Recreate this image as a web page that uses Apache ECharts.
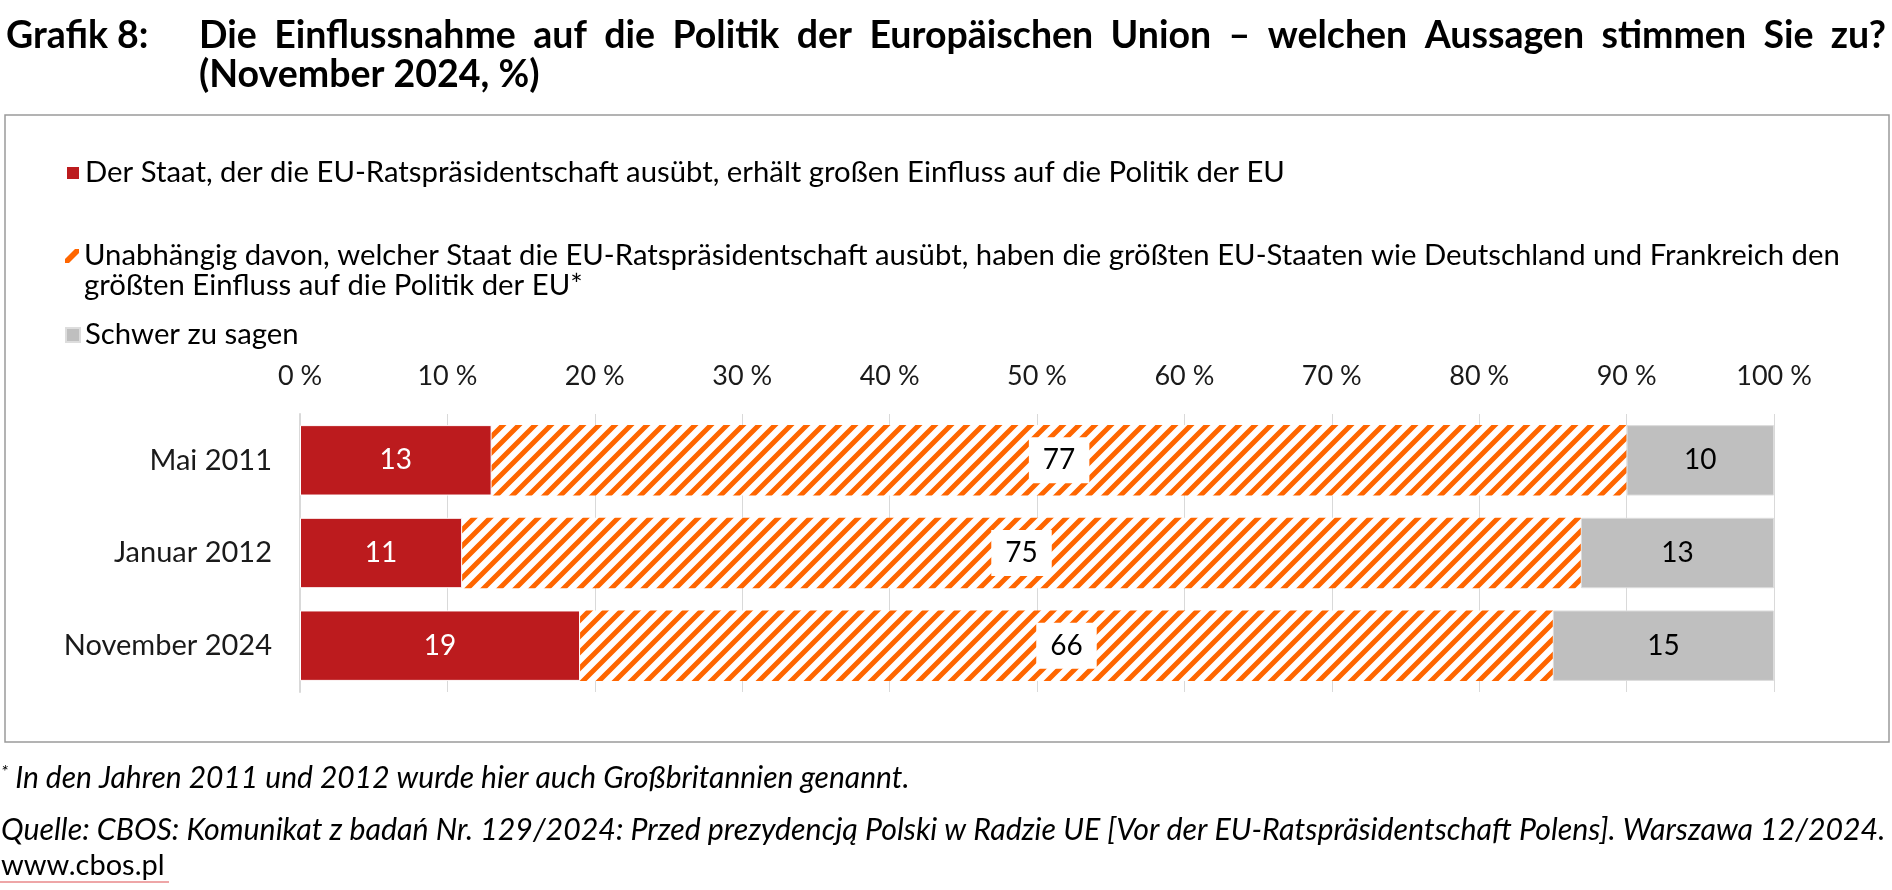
<!DOCTYPE html>
<html>
<head>
<meta charset="utf-8">
<script src="https://cdn.jsdelivr.net/npm/echarts@6/dist/echarts.min.js"></script>
<style>
  html, body { margin: 0; padding: 0; background: #fff; }
  #chart { width: 1892px; height: 890px; }
</style>
</head>
<body>
<div id="chart"></div>
<script>
const categories = ['Mai 2011', 'Januar 2012', 'November 2024'];
const seriesNames = [
  'Der Staat, der die EU-Ratspräsidentschaft ausübt, erhält großen Einfluss auf die Politik der EU',
  'Unabhängig davon, welcher Staat die EU-Ratspräsidentschaft ausübt, haben die größten EU-Staaten wie Deutschland und Frankreich den\ngrößten Einfluss auf die Politik der EU*',
  'Schwer zu sagen'
];
// bar lengths as drawn in the picture
const staatValues = [13, 11, 19];
const groessteValues = [77, 75.9, 66];
const schwerValues = [10, 13.1, 15];
// numbers printed on the bars
const staatLabels = [13, 11, 19];
const groessteLabels = [77, 75, 66];
const schwerLabels = [10, 13, 15];
const axisMin = 0, axisMax = 100, axisStep = 10;

const titleLabel = 'Grafik 8:';
const titleLine1 = 'Die Einflussnahme auf die Politik der Europäischen Union – welchen Aussagen stimmen Sie zu?';
const titleLine2 = '(November 2024, %)';
const footnote = ' In den Jahren 2011 und 2012 wurde hier auch Großbritannien genannt.';
const sourceText = 'Quelle: CBOS: Komunikat z badań Nr. 129/2024: Przed prezydencją Polski w Radzie UE [Vor der EU-Ratspräsidentschaft Polens]. Warszawa 12/2024.';
const siteText = 'www.cbos.pl';

const RED = '#BC1B1E', ORANGE = '#FF6600', GRAY = '#BFBFBF';
const FONT = 'Lato';
const TITLE_FONT = 'bold 37.5px Lato';

function hatch() {
  const s = 16;
  const c = document.createElement('canvas');
  c.width = s; c.height = s;
  const ctx = c.getContext('2d');
  ctx.fillStyle = '#fff';
  ctx.fillRect(0, 0, s, s);
  ctx.strokeStyle = ORANGE;
  ctx.lineWidth = 5;
  ctx.beginPath();
  for (let k = -1; k <= 1; k++) {
    ctx.moveTo(k * s - 2, s + 2);
    ctx.lineTo(k * s + s + 2, -2);
  }
  ctx.stroke();
  return c;
}

// justified title line (word positions computed from measured widths)
function justifiedWords(text, font, x0, x1, y) {
  const ctx = document.createElement('canvas').getContext('2d');
  ctx.font = font;
  const words = text.split(' ');
  const widths = words.map(w => ctx.measureText(w).width);
  const total = widths.reduce((a, b) => a + b, 0);
  const gap = (x1 - x0 - total) / (words.length - 1);
  const out = [];
  let x = x0;
  words.forEach((w, i) => {
    out.push({ type: 'text', x: x, y: y, style: { text: w, font: font, fill: '#000', verticalAlign: 'middle' } });
    x += widths[i] + gap;
  });
  return out;
}

const chart = echarts.init(document.getElementById('chart'), null, { renderer: 'canvas' });
const legendText = { fontFamily: FONT, fontSize: 29.3, color: '#000', lineHeight: 30 };
function legendCfg(name, icon, top, formatter, extra) {
  const item = Object.assign({ name: name, icon: icon }, extra || {});
  const cfg = { data: [item], left: 65, top: top, orient: 'vertical', padding: 0,
    itemWidth: 14, itemHeight: 14, textStyle: legendText, selectedMode: false };
  if (formatter) cfg.formatter = formatter;
  return cfg;
}

function labelFrom(arr) { return p => String(arr[p.dataIndex]); }

const option = {
  animation: false,
  backgroundColor: '#fff',
  textStyle: { fontFamily: FONT },
  legend: [
    legendCfg(seriesNames[0], 'rect', 158),
    legendCfg(seriesNames[1], 'path://M0,14L0,10L10,0L14,0L14,4L4,14Z', 211, n => '\n' + n, { itemStyle: { color: ORANGE } }),
    legendCfg(seriesNames[2], 'rect', 320)
  ],
  grid: { left: 300, right: 118, top: 414, bottom: 198, containLabel: false },
  xAxis: {
    type: 'value', position: 'top', min: axisMin, max: axisMax, interval: axisStep,
    axisLine: { show: false }, axisTick: { show: false },
    axisLabel: { formatter: '{value} %', fontSize: 27, color: '#1a1a1a', margin: 24, fontFamily: FONT },
    splitLine: { show: true, lineStyle: { color: '#D9D9D9', width: 1 } }
  },
  yAxis: {
    type: 'category', data: categories, inverse: true,
    axisLine: { show: true, lineStyle: { color: '#D9D9D9', width: 2 } },
    axisTick: { show: false },
    axisLabel: { fontSize: 29, color: '#1a1a1a', margin: 28, fontFamily: FONT }
  },
  series: [
    { name: seriesNames[0], type: 'bar', stack: 'all', data: staatValues, barCategoryGap: '24%',
      itemStyle: { color: RED, borderColor: '#fff', borderWidth: 1 },
      label: { show: true, position: 'inside', color: '#fff', fontSize: 28, fontFamily: FONT, formatter: labelFrom(staatLabels) } },
    { name: seriesNames[1], type: 'bar', stack: 'all', data: groessteValues,
      itemStyle: { color: { image: hatch(), repeat: 'repeat' } },
      label: { show: true, position: 'inside', color: '#000', fontSize: 28, fontFamily: FONT,
        backgroundColor: '#fff', padding: [9, 14], formatter: labelFrom(groessteLabels) } },
    { name: seriesNames[2], type: 'bar', stack: 'all', data: schwerValues,
      itemStyle: { color: GRAY, borderColor: '#DDDDDD', borderWidth: 1 },
      label: { show: true, position: 'inside', color: '#000', fontSize: 28, fontFamily: FONT, formatter: labelFrom(schwerLabels) } }
  ],
  graphic: [
    { type: 'rect', shape: { x: 5, y: 115, width: 1884, height: 627 }, z: -1,
      style: { fill: 'none', stroke: '#9A9A9A', lineWidth: 1.5 } },
    { type: 'text', x: 6, y: 36, style: { text: titleLabel, font: TITLE_FONT, fill: '#000', verticalAlign: 'middle' } }
  ].concat(justifiedWords(titleLine1, TITLE_FONT, 199, 1886, 36)).concat([
    { type: 'text', x: 199, y: 75, style: { text: titleLine2, font: TITLE_FONT, fill: '#000', verticalAlign: 'middle' } },
    { type: 'text', x: 1, y: 778, style: {
        text: '{s|*}{t|' + footnote + '}', verticalAlign: 'middle',
        rich: { s: { font: 'italic 18px Lato', fill: '#000', padding: [0, 0, 12, 0] },
                t: { font: 'italic 30px Lato', fill: '#000' } } } },
    { type: 'text', x: 1, y: 830, style: { text: sourceText, font: 'italic 30.3px Lato', fill: '#000', verticalAlign: 'middle' } },
    { type: 'text', x: 1, y: 866, style: { text: siteText, font: '29px Lato', fill: '#000', verticalAlign: 'middle' } },
    { type: 'line', shape: { x1: 0, y1: 882, x2: 169, y2: 882 }, style: { stroke: '#E8888A', lineWidth: 1.5 } }
  ])
};
chart.setOption(option);
</script>
</body>
</html>
